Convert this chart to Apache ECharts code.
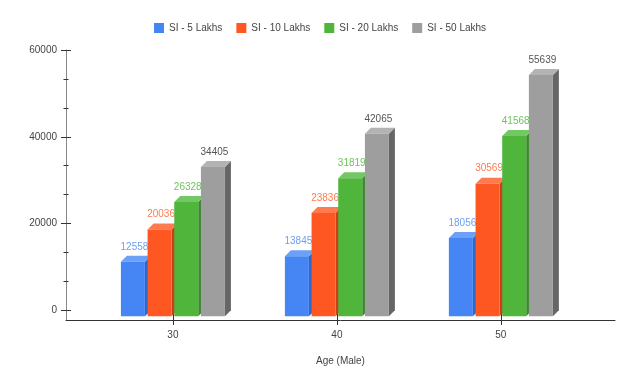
<!DOCTYPE html>
<html><head><meta charset="utf-8">
<script src="https://cdn.jsdelivr.net/npm/echarts@6/dist/echarts.min.js"></script>
<style>html,body{margin:0;padding:0;background:#fff}#c{width:640px;height:384px}</style>
</head><body><div id="c"></div>
<script>
const categories = [30, 40, 50];
const seriesNames = ['SI - 5 Lakhs', 'SI - 10 Lakhs', 'SI - 20 Lakhs', 'SI - 50 Lakhs'];
const si5 = [12558, 13845, 18056];
const si10 = [20036, 23836, 30569];
const si20 = [26328, 31819, 41568];
const si50 = [34405, 42065, 55639];
const yTicks = [0, 20000, 40000, 60000];
const yMinorTicks = [6666.67, 13333.33, 26666.67, 33333.33, 46666.67, 53333.33];
const xAxisName = 'Age (Male)';

const allValues = [si5, si10, si20, si50];
const faceColors = [
  {front: '#4685f4', top: '#6da0f7', side: '#2f66c8', label: '#6d9ff5'},
  {front: '#ff5722', top: '#ff7a4e', side: '#c8401a', label: '#ff7b50'},
  {front: '#4fb63b', top: '#72c862', side: '#3a8a2b', label: '#6cc55b'},
  {front: '#9e9e9e', top: '#b3b3b3', side: '#666666', label: '#555555'}
];
const FONT = 'Liberation Sans, Arial, sans-serif';

function makeRender(s) {
  return function (params, api) {
    const c = api.value(0), v = api.value(1);
    const p = api.coord([c, v]);
    const p0 = api.coord([c, 0]);
    const D = 6, W = 24, pitch = 26.67;
    const fl = p[0] - 52 + s * pitch, fr = fl + W;
    const ft = p[1] + D, fb = p0[1] + D;
    const col = faceColors[s];
    return {
      type: 'group',
      children: [
        {type: 'polygon', shape: {points: [[fr, ft], [fr + D, ft - D], [fr + D, fb - D], [fr, fb]]}, style: {fill: col.side}},
        {type: 'polygon', shape: {points: [[fl, ft], [fr, ft], [fr + D, ft - D], [fl + D, ft - D]]}, style: {fill: col.top}},
        {type: 'rect', shape: {x: fl, y: ft, width: W, height: fb - ft}, style: {fill: col.front}},
        {type: 'text', style: {text: String(v), x: fl + W / 2 + 1.5, y: p[1] - 9, align: 'center', verticalAlign: 'middle', fill: col.label, font: '10px ' + FONT}}
      ]
    };
  };
}

const chart = echarts.init(document.getElementById('c'), null, {renderer: 'canvas'});
const X_MIN = 23.48, X_MAX = 56.96, Y_MIN = -2236, Y_MAX = 60000;
const baseX = {type: 'value', min: X_MIN, max: X_MAX, position: 'bottom', splitLine: {show: false}};
const baseY = {type: 'value', min: Y_MIN, max: Y_MAX, position: 'left', splitLine: {show: false}};
chart.setOption({
  animation: false,
  legend: {
    data: seriesNames, left: 149, top: 18, icon: 'rect', itemWidth: 10, itemHeight: 10, itemGap: 14,
    textStyle: {fontSize: 10, color: '#444', fontFamily: FONT}
  },
  grid: {left: 66, right: 25, top: 50, bottom: 64, containLabel: false},
  xAxis: [
    Object.assign({}, baseX, {
      axisLine: {show: true, onZero: false, lineStyle: {color: '#333', width: 1}},
      axisTick: {show: true, customValues: categories, length: 5, lineStyle: {color: '#333'}},
      axisLabel: {show: true, customValues: categories, fontSize: 10, color: '#444', fontFamily: FONT, margin: 10},
      name: xAxisName, nameLocation: 'middle', nameGap: 36,
      nameTextStyle: {fontSize: 10, color: '#444', fontFamily: FONT}
    }),
    Object.assign({}, baseX, {
      axisLine: {show: false, onZero: false},
      axisTick: {show: true, inside: true, customValues: categories, length: 6, lineStyle: {color: '#333'}},
      axisLabel: {show: false}
    })
  ],
  yAxis: [
    Object.assign({}, baseY, {
      axisLine: {show: true, onZero: false, lineStyle: {color: '#888', width: 1}},
      axisTick: {show: true, customValues: yTicks, length: 5, lineStyle: {color: '#333'}},
      axisLabel: {show: true, customValues: yTicks, fontSize: 10, color: '#444', fontFamily: FONT, margin: 9,
        formatter: function (v) { return String(Math.round(v)); }}
    }),
    Object.assign({}, baseY, {
      axisLine: {show: false, onZero: false},
      axisTick: {show: true, inside: true, customValues: yTicks, length: 5, lineStyle: {color: '#333'}},
      axisLabel: {show: false}
    }),
    Object.assign({}, baseY, {
      axisLine: {show: false, onZero: false},
      axisTick: {show: true, customValues: yMinorTicks, length: 2.5, lineStyle: {color: '#333'}},
      axisLabel: {show: false}
    }),
    Object.assign({}, baseY, {
      axisLine: {show: false, onZero: false},
      axisTick: {show: true, inside: true, customValues: yMinorTicks, length: 2.5, lineStyle: {color: '#333'}},
      axisLabel: {show: false}
    })
  ],
  series: seriesNames.map((name, s) => ({
    type: 'custom', name: name, xAxisIndex: 0, yAxisIndex: 0,
    itemStyle: {color: faceColors[s].front},
    renderItem: makeRender(s),
    encode: {x: 0, y: 1},
    data: categories.map((c, i) => [c, allValues[s][i]])
  }))
});
</script></body></html>
